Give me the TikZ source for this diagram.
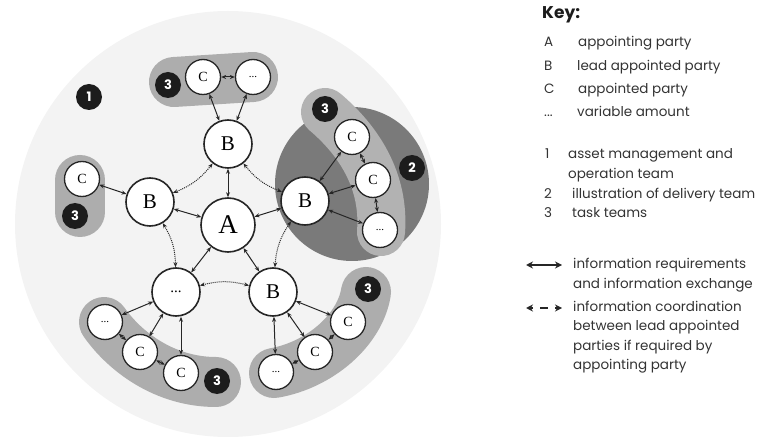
\documentclass[tikz,border=0pt]{standalone}
\usepackage{fontspec}
\setmainfont{Liberation Serif}
\newfontfamily\keyfont{Poppins}
\usetikzlibrary{arrows.meta}
\definecolor{bgc}{HTML}{F3F3F3}
\definecolor{teamc}{HTML}{ADADAD}
\definecolor{delc}{HTML}{7A7A7A}
\definecolor{bandc}{HTML}{B2B2B2}
\definecolor{linec}{HTML}{262626}
\definecolor{badgec}{HTML}{1C1C1C}
\definecolor{keytext}{HTML}{333333}
\tikzset{
  bignode/.style={circle, draw=linec, fill=white, line width=1.6pt, minimum size=48pt, inner sep=0pt, font=\fontsize{21}{21}\selectfont},
  anode/.style={bignode, minimum size=54pt, font=\fontsize{27}{27}\selectfont},
  smallnode/.style={circle, draw=linec, fill=white, line width=1.3pt, minimum size=35pt, inner sep=0pt, font=\fontsize{14}{14}\selectfont},
  dotsbig/.style={bignode, font=\fontsize{15}{15}\selectfont},
  dotssmall/.style={smallnode, font=\fontsize{11}{11}\selectfont},
  badge/.style={circle, fill=badgec, text=white, minimum size=26pt, inner sep=0pt, font=\keyfont\bfseries\fontsize{13}{13}\selectfont},
  conn/.style={{Stealth[length=5pt,width=4pt]}-{Stealth[length=5pt,width=4pt]}, line width=1pt, draw=linec},
  coordarr/.style={conn, densely dotted},
  team/.style={draw=teamc, line width=50pt, line cap=round, line join=round},
  band/.style={draw=bandc, line width=48pt, line cap=round, line join=round},
  keylbl/.style={anchor=west, inner sep=0pt, text=keytext, font=\keyfont\fontsize{13.5}{13.5}\selectfont, text height=10pt, text depth=3pt},
  legarr/.style={line width=1.2pt, draw=linec, {Stealth[length=7pt,width=7pt]}-{Stealth[length=7pt,width=7pt]}},
  legtip/.style={line width=1.2pt, draw=linec, -{Stealth[length=7pt,width=7pt]}}
}
\begin{document}
\begin{tikzpicture}[x=1pt,y=-1pt]
\useasboundingbox (0,0) rectangle (768,438);
% asset management team
\fill[bgc] (228,224) circle (213);
% delivery team
\fill[delc] (352,184) circle (77);
% task team areas
\draw[team] (174,82) -- (253,77);
\draw[team] (80,180) -- (80,212);
\draw[band] (325,112) .. controls (358,140) and (385,180) .. (381,232);
\draw[team] (366,292) .. controls (360,330) and (320,365) .. (274,373);
\draw[team] (104,322) .. controls (125,352) and (165,382) .. (216,382);

% main nodes
\node[anode] (A) at (228,225) {A};
\node[bignode] (Bt) at (228,144) {B};
\node[bignode] (Bl) at (150,202) {B};
\node[bignode] (Br) at (305,201) {B};
\node[dotsbig] (D) at (176,292) {...};
\node[bignode] (Bb) at (273,292) {B};

% task team nodes
\node[smallnode] (tC) at (203,77) {C};
\node[dotssmall] (tD) at (253,77) {...};
\node[smallnode] (lC) at (82,179) {C};
\node[smallnode] (rC1) at (352,137) {C};
\node[smallnode] (rC2) at (373,180) {C};
\node[dotssmall] (rD) at (380,230) {...};
\node[smallnode] (bC1) at (348,322) {C};
\node[smallnode] (bC2) at (315,352) {C};
\node[dotssmall] (bD) at (276,372) {...};
\node[dotssmall] (gD) at (105,322) {...};
\node[smallnode] (gC1) at (140,352) {C};
\node[smallnode] (gC2) at (181,373) {C};

% badges
\node[badge] (n1) at (89,97) {1};
\node[badge] (n3t) at (168,85) {3};
\node[badge] (n3l) at (75,216) {3};
\node[badge] (n3r) at (325,109) {3};
\node[badge] (n2) at (412,168) {2};
\node[badge] (n3b) at (368,289) {3};
\node[badge] (n3g) at (217,381) {3};

% solid connectors
\draw[conn] (A) -- (Bt);
\draw[conn] (A) -- (Bl);
\draw[conn] (A) -- (Br);
\draw[conn] (A) -- (D);
\draw[conn] (A) -- (Bb);
\draw[conn] (tC) -- (tD);
\draw[conn] (tC) -- (Bt);
\draw[conn] (tD) -- (Bt);
\draw[conn] (lC) -- (Bl);
\draw[conn] (rC1) -- (Br);
\draw[conn] (rC2) -- (Br);
\draw[conn] (rD) -- (Br);
\draw[conn] (rC1) -- (rC2);
\draw[conn] (rC2) -- (rD);
\draw[conn] (Bb) -- (bC1);
\draw[conn] (Bb) -- (bC2);
\draw[conn] (Bb) -- (bD);
\draw[conn] (bC1) -- (bC2);
\draw[conn] (bC2) -- (bD);
\draw[conn] (D) -- (gD);
\draw[conn] (D) -- (gC1);
\draw[conn] (D.south -| gC2) -- (gC2);
\draw[conn] (gD) -- (gC1);
\draw[conn] (gC1) -- (gC2);

% dotted coordination connectors
\draw[coordarr] (Bt) to[bend left=15] (Bl);
\draw[coordarr] (Bl) to[bend left=15] (D);
\draw[coordarr] (D) to[bend left=15] (Bb);
\draw[coordarr] (Bb) to[bend left=15] (Br);
\draw[coordarr] (Br) to[bend left=15] (Bt);

% key
\node[anchor=west, inner sep=0pt, text=badgec, font=\keyfont\bfseries\fontsize{17}{17}\selectfont] (key) at (542,15) {Key:};
\node[keylbl] (kA) at (544,43) {A};
\node[keylbl] (kAt) at (578,43) {appointing party};
\node[keylbl] (kB) at (544,67) {B};
\node[keylbl] (kBt) at (577,67) {lead appointed party};
\node[keylbl] (kC) at (544,90) {C};
\node[keylbl] (kCt) at (578,90) {appointed party};
\node[keylbl] (kD) at (544,113) {...};
\node[keylbl] (kDt) at (577,113) {variable amount};
\node[keylbl] (k1) at (545,155) {1};
\node[keylbl] (k1t) at (568,155) {asset management and};
\node[keylbl] (k1u) at (568,175) {operation team};
\node[keylbl] (k2) at (544,195) {2};
\node[keylbl] (k2t) at (572,195) {illustration of delivery team};
\node[keylbl] (k3) at (544,214) {3};
\node[keylbl] (k3t) at (572,214) {task teams};

\coordinate (la1) at (526,265);
\coordinate (la2) at (562,265);
\draw[legarr] (la1) -- (la2);
\node[keylbl] (l1a) at (573,265) {information requirements};
\node[keylbl] (l1b) at (573,285) {and information exchange};
\coordinate (lb1) at (526,308);
\coordinate (lb1i) at (533,308);
\coordinate (lb2) at (562,308);
\coordinate (lb2i) at (555,308);
\coordinate (lbm1) at (540,308);
\coordinate (lbm2) at (548,308);
\draw[legtip] (lb1i) -- (lb1);
\draw[legtip] (lb2i) -- (lb2);
\draw[line width=1.2pt, draw=linec] (lbm1) -- (lbm2);
\node[keylbl] (l2a) at (573,308) {information coordination};
\node[keylbl] (l2b) at (573,327) {between lead appointed};
\node[keylbl] (l2c) at (573,347) {parties if required by};
\node[keylbl] (l2d) at (573,366) {appointing party};
\end{tikzpicture}
\end{document}
